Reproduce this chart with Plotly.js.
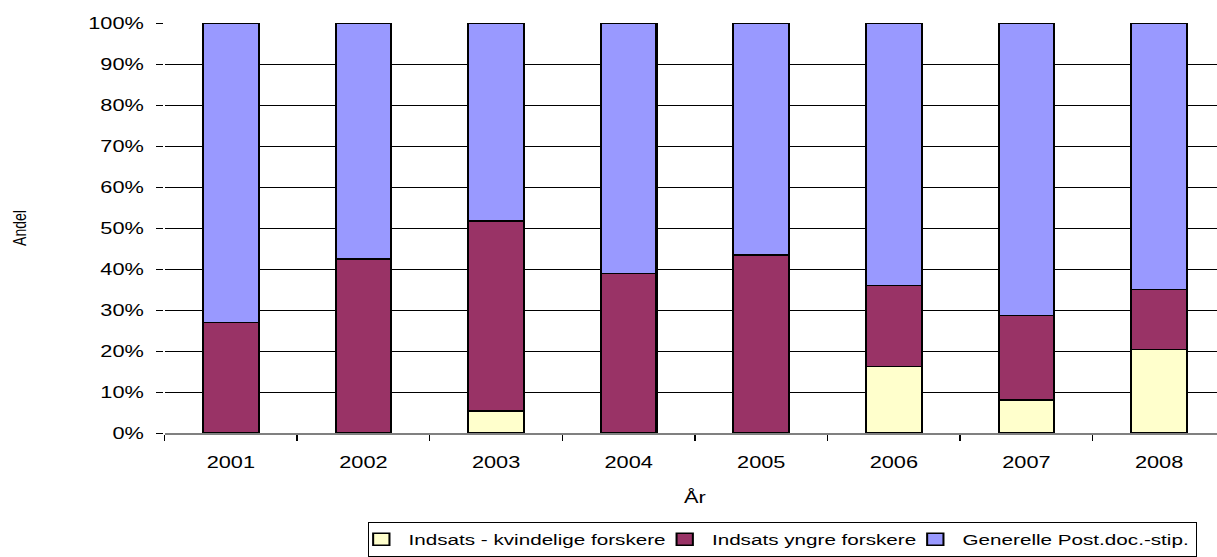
<!DOCTYPE html>
<html>
<head>
<meta charset="utf-8">
<script src="https://cdn.plot.ly/plotly-3.0.1.min.js"></script>
<style>
html,body{margin:0;padding:0;background:#fff;overflow:hidden;}
#wrap{width:1217px;height:557px;overflow:hidden;position:relative;}
#chart{width:901px;height:557px;transform:scaleX(1.36);transform-origin:0 0;}
</style>
</head>
<body>
<div id="wrap"><div id="chart"></div></div>
<script>
const years = ['2001','2002','2003','2004','2005','2006','2007','2008'];
const kvindelige = [0, 0, 5.4, 0, 0, 16.2, 8.1, 20.4];
const yngre = [26.9, 42.4, 46.3, 38.9, 43.4, 19.8, 20.5, 14.6];
const generelle = [73.1, 57.6, 48.3, 61.1, 56.6, 64.0, 71.4, 65.0];
const seriesNames = ['Indsats - kvindelige forskere', 'Indsats yngre forskere', 'Generelle Post.doc.-stip.'];
const colors = ['#FFFFCC', '#993366', '#9999FF'];
const yTickVals = [0,10,20,30,40,50,60,70,80,90,100];
const yTickText = ['0%','10%','20%','30%','40%','50%','60%','70%','80%','90%','100%'];
const seriesData = [kvindelige, yngre, generelle];

const traces = seriesData.map((vals, i) => ({
  type: 'bar',
  name: seriesNames[i],
  x: years,
  y: vals,
  marker: {color: colors[i], line: {color: '#000', width: 1.5}}
}));

const layout = {
  width: 901, height: 557,
  margin: {l: 120.6, r: 0, t: 23, b: 124, autoexpand: false},
  barmode: 'stack',
  bargap: 0.58,
  paper_bgcolor: '#fff',
  plot_bgcolor: '#fff',
  font: {family: 'Liberation Sans, Arial, sans-serif', size: 16, color: '#000'},
  xaxis: {
    type: 'category',
    automargin: true,
    title: {text: 'År', font: {size: 16}, standoff: 22},
    showline: true, linecolor: '#808080', linewidth: 2,
    ticks: 'outside', tickson: 'boundaries', ticklen: 6, tickcolor: '#000', tickwidth: 1,
    ticklabelstandoff: 14,
    showgrid: false, zeroline: false
  },
  yaxis: {
    range: [0, 100],
    automargin: true,
    tickvals: yTickVals,
    ticktext: yTickText,
    ticks: 'outside', ticklen: 5, tickcolor: '#000', tickwidth: 1,
    ticklabelstandoff: 6,
    showgrid: true, gridcolor: '#000', gridwidth: 1,
    showline: false, zeroline: false,
    title: {text: 'Andel', font: {size: 14}, standoff: 41}
  },
  legend: {
    orientation: 'h', x: 0.1915, xanchor: 'left', y: -0.217, yanchor: 'top',
    bordercolor: '#000', borderwidth: 1, traceorder: 'normal',
    font: {size: 15.2}, itemwidth: 30, indentation: -11
  },
  showlegend: true
};

Plotly.newPlot('chart', traces, layout, {displayModeBar: false, staticPlot: true});
</script>
</body>
</html>
